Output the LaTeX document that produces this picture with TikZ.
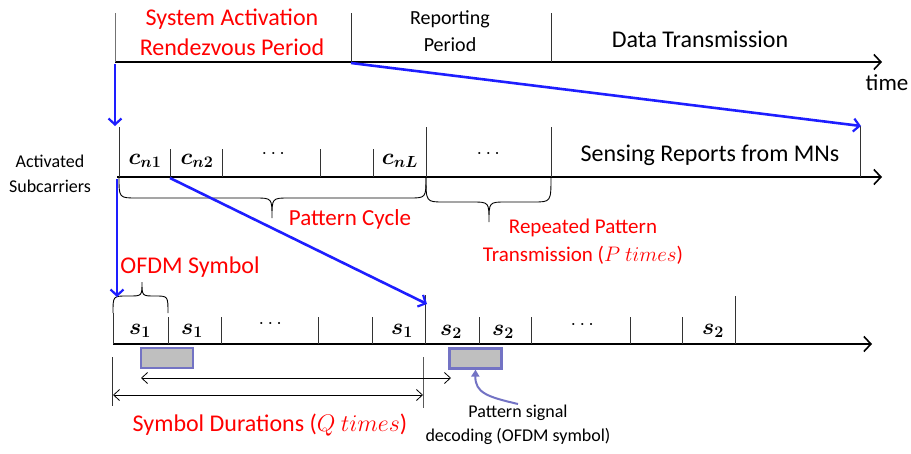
\RequirePackage{fix-cm}
\documentclass[tikz,border=0pt]{standalone}
\usepackage{amsmath}
\usepackage[no-math]{fontspec}
\setmainfont{Carlito}
\usetikzlibrary{arrows.meta}

\definecolor{pblue}{HTML}{1E1EFF}
\definecolor{boxedge}{HTML}{7373C4}
\definecolor{boxfill}{HTML}{BFBFBF}

\newcommand{\fs}[2]{\fontsize{#1}{#2}\selectfont}
\newcommand{\bsym}[2]{\scalebox{1.15}{$\boldsymbol{#1}_{\boldsymbol{#2}}$}}

\tikzset{
  axis/.style={line width=2pt, -{Straight Barb[length=7pt,width=15pt,line width=1.6pt]}},
  tickline/.style={line width=0.9pt, black!80},
  bluearrow/.style={draw=pblue, line width=2.6pt, -{Straight Barb[length=6pt,width=13pt,line width=2.2pt]}},
  durarrow/.style={line width=0.8pt, {Straight Barb[length=6pt,width=11pt,line width=0.8pt]}-{Straight Barb[length=6pt,width=11pt,line width=0.8pt]}},
  decbox/.style={draw=boxedge, fill=boxfill, line width=2.2pt, minimum width=52pt, minimum height=20pt, inner sep=0pt},
  bracestyle/.style={line width=0.9pt},
  lbl/.style={inner sep=0pt, align=center},
  redlbl/.style={lbl, text=red},
  mlbl/.style={inner sep=0pt, font=\fs{20}{24}},
}

\begin{document}
\begin{tikzpicture}[x=1pt,y=-1pt]
\useasboundingbox (0,0) rectangle (911,453);

% ---------- top timeline ----------
\coordinate (t0) at (115,62);
\coordinate (t1) at (882,62);
\draw[axis] (t0) -- (t1);
\draw[tickline, black!55] (115,13) -- (115,62);
\draw[tickline] (351,13) -- (351,62);
\draw[tickline] (551,13) -- (551,62);
\coordinate (rep) at (351,63);

\node[redlbl, font=\fs{24}{30}] (sa) at (232,32) {System Activation\\Rendezvous Period};
\node[lbl, font=\fs{20}{27}] (rp) at (450,31) {Reporting\\Period};
\node[lbl, font=\fs{24}{28}] (dt) at (700,39) {Data Transmission};
\node[lbl, font=\fs{23}{28}] (time) at (887,83) {time};

% ---------- subcarrier timeline ----------
\coordinate (u0) at (117,177);
\coordinate (u1) at (882,177);
\draw[axis] (u0) -- (u1);
\draw[tickline] (119,127) -- (119,177);
\foreach \x in {170,222,320,373}
  \draw[tickline] (\x,149) -- (\x,177);
\draw[tickline] (426,127) -- (426,177);
\draw[tickline] (551,127) -- (551,177);
\draw[tickline] (860,126) -- (860,177);
\coordinate (cn2) at (170,178);

\node[lbl, font=\fs{18}{25}] (act) at (50,174) {Activated\\Subcarriers};
\node[mlbl] (c1) at (145,161) {\bsym{c}{n1}};
\node[mlbl] (c2) at (197,161) {\bsym{c}{n2}};
\node[mlbl] (cd) at (275,154) {$\cdots$};
\node[mlbl] (cL) at (400,161) {\bsym{c}{nL}};
\node[mlbl] (cd2) at (490,154) {$\cdots$};
\node[lbl, font=\fs{24}{28}] (sr) at (710,155) {Sensing Reports from MNs};

% braces under the pattern cycle and the repetitions
\draw[bracestyle] (119,177) .. controls (119,198) .. (137,198) -- (255,198)
  .. controls (272,198) .. (272,218) .. controls (272,198) .. (289,198)
  -- (409,198) .. controls (426,198) .. (426,177);
\draw[bracestyle] (426,177) .. controls (426,202) .. (444,202) -- (472,202)
  .. controls (489,202) .. (489,222) .. controls (489,202) .. (506,202)
  -- (533,202) .. controls (551,202) .. (551,177);

\node[redlbl, font=\fs{23}{28}] (pc) at (350,219) {Pattern Cycle};
\node[redlbl, font=\fs{21}{28}] (rpt) at (583,242) {Repeated Pattern\\Transmission ($P\ times$)};

% ---------- symbol timeline ----------
\coordinate (v0) at (113,344);
\coordinate (v1) at (872,344);
\draw[axis] (v0) -- (v1);
\draw[tickline] (113,313) -- (113,344);
\foreach \x in {168,221,318,372,479,531,630,682}
  \draw[tickline] (\x,317) -- (\x,344);
\draw[tickline] (425,295) -- (425,344);
\draw[tickline] (735,296) -- (735,344);
\coordinate (sym) at (427,304);
\coordinate (ofd) at (117,297);

% brace over one OFDM symbol
\draw[bracestyle] (113,313) .. controls (113,296) .. (127,296) -- (129,296)
  .. controls (142,296) .. (142,282) .. controls (142,296) .. (155,296)
  .. controls (168,296) .. (168,313);

\node[redlbl, font=\fs{24}{28}] (os) at (190,267) {OFDM Symbol};
\node[mlbl] (s1a) at (140,331) {\bsym{s}{1}};
\node[mlbl] (s1b) at (192,331) {\bsym{s}{1}};
\node[mlbl] (sd1) at (272,324) {$\cdots$};
\node[mlbl] (s1c) at (402,331) {\bsym{s}{1}};
\node[mlbl] (s2a) at (451,332) {\bsym{s}{2}};
\node[mlbl] (s2b) at (503,332) {\bsym{s}{2}};
\node[mlbl] (sd2) at (584,325) {$\cdots$};
\node[mlbl] (s2c) at (713,331) {\bsym{s}{2}};

% decoding windows
\node[decbox] (w1) at (167,358) {};
\node[decbox] (w2) at (475.5,358.5) {};

% symbol durations
\draw[tickline] (112,357) -- (112,406);
\draw[tickline, black!65] (423,357) -- (423,408);
\coordinate (da0) at (141,378);
\coordinate (da1) at (451,378);
\coordinate (db0) at (113,395);
\coordinate (db1) at (423,395);
\draw[durarrow] (da0) -- (da1);
\draw[durarrow] (db0) -- (db1);

\node[redlbl, font=\fs{24}{28}] (sdur) at (270,425) {Symbol Durations ($Q\ times$)};
\node[lbl, font=\fs{18}{24}] (psd) at (518,425) {Pattern signal\\decoding (OFDM symbol)};

\coordinate (cstart) at (518,404);
\draw[draw=boxedge, line width=2pt, -{Triangle[length=7pt,width=8pt]}]
  (cstart) .. controls (488,397) and (475,393) .. (w2.south);

% ---------- blue links between the levels ----------
\coordinate (t0b) at (115,64);
\coordinate (u0b) at (117,179);
\coordinate (tip1) at (115,126);
\coordinate (tip2) at (861,126);
\draw[bluearrow] (t0b) -- (tip1);
\draw[bluearrow] (rep) -- (tip2);
\draw[bluearrow] (u0b) -- (ofd);
\draw[bluearrow] (cn2) -- (sym);
\end{tikzpicture}
\end{document}
